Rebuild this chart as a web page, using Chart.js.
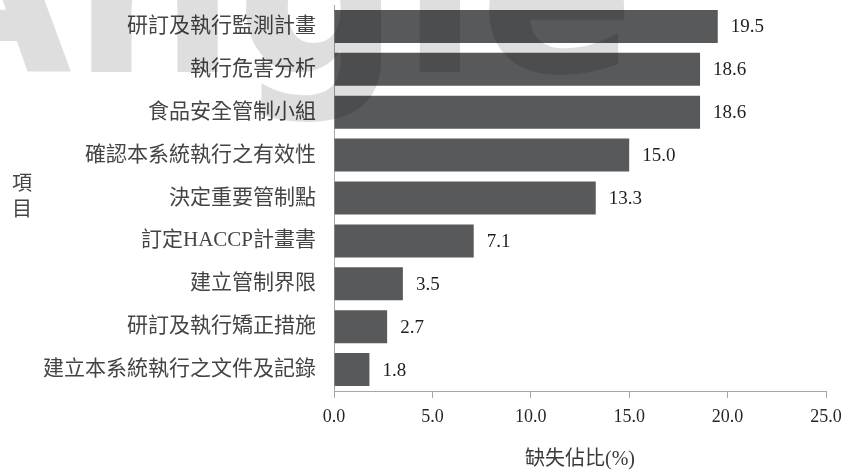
<!DOCTYPE html>
<html>
<head>
<meta charset="utf-8">
<script src="https://cdn.jsdelivr.net/npm/chart.js@4"></script>
<style>
  html, body { margin: 0; padding: 0; background: #fff; }
  #wrap { width: 868px; height: 475px; position: relative; }
</style>
</head>
<body>
<div id="wrap"><canvas id="chart"></canvas></div>
<script>
const categories = [
  '研訂及執行監測計畫',
  '執行危害分析',
  '食品安全管制小組',
  '確認本系統執行之有效性',
  '決定重要管制點',
  '訂定HACCP計畫書',
  '建立管制界限',
  '研訂及執行矯正措施',
  '建立本系統執行之文件及記錄'
];
const values = [19.5, 18.6, 18.6, 15.0, 13.3, 7.1, 3.5, 2.7, 1.8];
const xMin = 0, xMax = 25, xStep = 5;
const xTitle = '缺失佔比(%)';
const yTitle = ['項', '目'];
const watermark = 'Angle';

const FONT = '"Liberation Serif", "Noto Sans CJK TC", serif';
const TEXT = '#3a3a3a';
const AXIS = '#a6a6a6';

// value labels next to each bar, the stacked y title and the faint watermark
const extras = {
  id: 'extras',
  afterDraw(chart) {
    const ctx = chart.ctx;
    const meta = chart.getDatasetMeta(0);
    ctx.save();
    ctx.font = '19px ' + FONT;
    ctx.fillStyle = '#1e1e1e';
    ctx.textAlign = 'left';
    ctx.textBaseline = 'middle';
    meta.data.forEach((bar, i) => {
      ctx.fillText(values[i].toFixed(1), bar.x + 13, bar.y + 1);
    });

    ctx.font = '20px ' + FONT;
    ctx.fillStyle = '#444';
    ctx.textAlign = 'center';
    const mid = (chart.chartArea.top + chart.chartArea.bottom) / 2;
    yTitle.forEach((ch, i) => {
      ctx.fillText(ch, 22, mid - 13 + i * 26);
    });

    ctx.font = 'bold 230px "DejaVu Sans"';
    ctx.fillStyle = 'rgba(0,0,0,0.13)';
    ctx.textAlign = 'left';
    ctx.textBaseline = 'alphabetic';
    ctx.fillText(watermark, -106, 72);
    ctx.restore();
  }
};

new Chart(document.getElementById('chart'), {
  type: 'bar',
  data: {
    labels: categories,
    datasets: [{
      data: values,
      backgroundColor: '#58595b',
      borderWidth: 0,
      categoryPercentage: 0.77,
      barPercentage: 1
    }]
  },
  options: {
    indexAxis: 'y',
    responsive: true,
    maintainAspectRatio: false,
    animation: false,
    layout: { padding: { top: 5, right: 42, bottom: 3, left: 0 } },
    plugins: {
      legend: { display: false },
      tooltip: { enabled: false }
    },
    scales: {
      x: {
        min: xMin,
        max: xMax,
        ticks: {
          stepSize: xStep,
          color: '#262626',
          font: { family: FONT, size: 18 },
          padding: 8,
          callback: v => Number(v).toFixed(1)
        },
        grid: {
          drawOnChartArea: false,
          drawTicks: true,
          tickLength: 7,
          color: AXIS
        },
        border: { display: true, color: AXIS, width: 1 },
        title: {
          display: true,
          text: xTitle,
          color: TEXT,
          font: { family: FONT, size: 20 },
          padding: { top: 0, bottom: 0 }
        },
        afterFit: s => {
          s.height = 81;
          s.paddingLeft = 0;
          s.paddingRight = 0;
        }
      },
      y: {
        ticks: {
          color: '#444',
          font: { family: FONT, size: 21 },
          padding: 18,
          autoSkip: false
        },
        grid: { display: false, drawTicks: false },
        border: { display: true, color: AXIS, width: 1 },
        afterFit: s => {
          s.width = 334;
          s.paddingTop = 0;
          s.paddingBottom = 0;
        }
      }
    }
  },
  plugins: [extras]
});
</script>
</body>
</html>
